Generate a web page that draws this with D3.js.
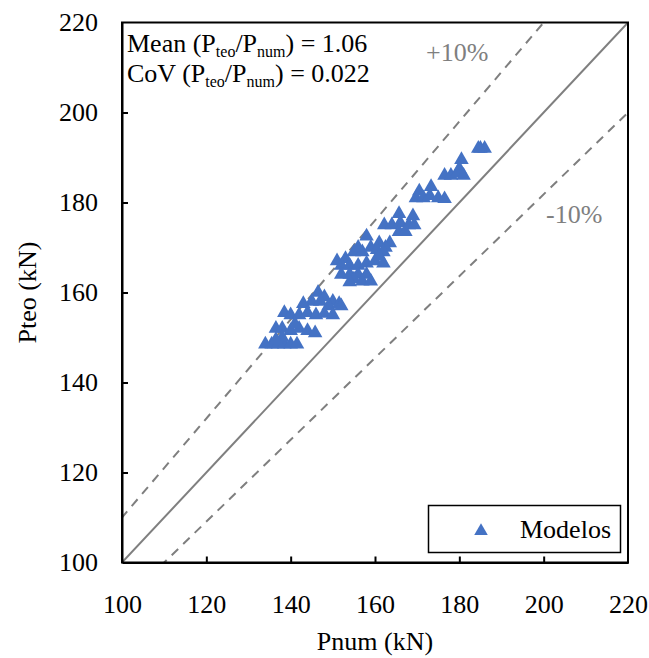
<!DOCTYPE html>
<html>
<head>
<meta charset="utf-8">
<script src="https://cdn.jsdelivr.net/npm/d3@7"></script>
<style>
  body { margin: 0; background: #fff; }
  svg text { font-family: "Liberation Serif", "Times New Roman", serif; }
</style>
</head>
<body>
<div id="chart"></div>
<script>
const width = 649, height = 658;
const margin = {top: 22.5, right: 21, bottom: 95.5, left: 122};

// Pnum (kN)
const pnum = [186, 185, 184.5,
  180.5,
  176.5, 178, 179.5, 181, 180,
  173.3,
  169.7, 171.5, 173, 175, 176.5, 170.5,
  165.7, 169,
  162.2, 164, 166, 168, 169.3,
  165.7, 167.2,
  158, 161, 163.5, 162.5,
  151, 153, 155, 157, 159, 160.5, 162, 156,
  152, 154, 156, 158, 160, 162, 161,
  152, 154, 156, 158, 155, 157, 154, 159,
  146.5, 148, 150, 145, 147, 143, 149, 151.5, 152,
  138.5, 140, 142, 144, 146, 148, 150,
  136.5, 138, 140, 142, 144, 145.8, 141,
  134, 135.5, 137, 138.5, 140, 141.5, 138, 136.5];
// Pteo (kN)
const pteo = [192, 192, 192,
  189.5,
  186, 186, 186.5, 186, 187.5,
  183.5,
  181, 181, 181.5, 181, 180.8, 182.5,
  177.5, 177,
  175, 175, 175.5, 175, 175,
  173.5, 173.5,
  172.5, 171, 171, 170,
  167, 167.5, 169, 169, 170, 169.5, 169, 170,
  166, 166, 166, 166.5, 167, 166.5, 168,
  164, 164, 164, 164, 163, 162.5, 162.3, 162.5,
  160, 159, 158, 158, 158, 157.5, 157, 157.5, 157,
  155.5, 155, 155, 155.5, 155, 155.3, 155,
  152, 152, 151.5, 152, 151.5, 151, 153,
  148.5, 148.5, 148.5, 148.5, 148.5, 148.5, 150, 149.5];

const ticks = [100, 120, 140, 160, 180, 200, 220];
const meanText = ["Mean (P", "teo", "/P", "num", ") = 1.06"];
const covText = ["CoV (P", "teo", "/P", "num", ") = 0.022"];

const fs = 26;
const svg = d3.select("#chart").append("svg")
  .attr("width", width).attr("height", height);

const x = d3.scaleLinear().domain([100, 220]).range([margin.left, width - margin.right]);
const y = d3.scaleLinear().domain([100, 220]).range([height - margin.bottom, margin.top]);

// reference lines
const grey = "#7f7f7f";
const lines = [
  {f: v => v, dash: null},
  {f: v => v * 1.1, dash: "9,7"},
  {f: v => v / 1.1, dash: "9,7"}
];
svg.append("clipPath").attr("id", "plot").append("rect")
  .attr("x", x(100)).attr("y", y(220))
  .attr("width", x(220) - x(100)).attr("height", y(100) - y(220));
const lg = svg.append("g").attr("clip-path", "url(#plot)");
lines.forEach(l => {
  lg.append("line")
    .attr("x1", x(90)).attr("y1", y(l.f(90)))
    .attr("x2", x(230)).attr("y2", y(l.f(230)))
    .attr("stroke", grey).attr("stroke-width", 2)
    .attr("stroke-dasharray", l.dash);
});

// points
const pts = pnum.map((p, i) => [p, pteo[i]]);
const tri = d3.symbol().type(d3.symbolTriangle).size(92);
svg.append("g").selectAll("path").data(pts).join("path")
  .attr("d", tri)
  .attr("transform", d => `translate(${x(d[0])},${y(d[1])})`)
  .attr("fill", "#4472c4");

// frame
svg.append("rect")
  .attr("x", x(100)).attr("y", y(220))
  .attr("width", x(220) - x(100)).attr("height", y(100) - y(220))
  .attr("fill", "none").attr("stroke", "#000").attr("stroke-width", 2);

// axes (ticks inside)
const xAxis = svg.append("g").attr("transform", `translate(0,${y(100)})`)
  .call(d3.axisBottom(x).tickValues(ticks).tickSizeInner(-6).tickSizeOuter(0).tickPadding(32));
const yAxis = svg.append("g").attr("transform", `translate(${x(100)},0)`)
  .call(d3.axisLeft(y).tickValues(ticks).tickSizeInner(-6).tickSizeOuter(0).tickPadding(24));
[xAxis, yAxis].forEach(a => {
  a.attr("font-family", null).attr("font-size", null);
  a.select(".domain").attr("stroke-width", 2);
  a.selectAll(".tick line").attr("stroke-width", 2)
    .filter(d => d === 100 || d === 220).remove();
  a.selectAll("text").style("font-size", fs + "px").attr("fill", "#000");
});

// axis titles
svg.append("text").attr("x", (x(100) + x(220)) / 2).attr("y", 650)
  .attr("text-anchor", "middle").style("font-size", fs + "px").text("Pnum (kN)");
svg.append("text").attr("transform", `translate(36,${(y(100) + y(220)) / 2}) rotate(-90)`)
  .attr("text-anchor", "middle").style("font-size", fs + "px").text("Pteo (kN)");

// stats annotation
function statLine(parts, yy) {
  const t = svg.append("text").attr("x", 127).attr("y", yy).style("font-size", fs + "px");
  parts.forEach((s, i) => {
    const sub = i === 1 || i === 3;
    t.append("tspan").style("font-size", (sub ? 16 : fs) + "px")
      .attr("dy", sub ? 5 : (i === 0 ? 0 : -5)).text(s);
  });
}
statLine(meanText, 52);
statLine(covText, 82);

// percentage labels
svg.append("text").attr("x", 426).attr("y", 61).style("font-size", fs + "px").attr("fill", grey).text("+10%");
svg.append("text").attr("x", 546).attr("y", 223).style("font-size", fs + "px").attr("fill", grey).text("-10%");

// legend
svg.append("rect").attr("x", 428.5).attr("y", 505.5).attr("width", 192).attr("height", 47)
  .attr("fill", "#fff").attr("stroke", "#000").attr("stroke-width", 1.5);
svg.append("path").attr("d", d3.symbol().type(d3.symbolTriangle).size(80))
  .attr("transform", "translate(481,531)").attr("fill", "#4472c4");
svg.append("text").attr("x", 520).attr("y", 538).style("font-size", fs + "px").text("Modelos");
</script>
</body>
</html>
